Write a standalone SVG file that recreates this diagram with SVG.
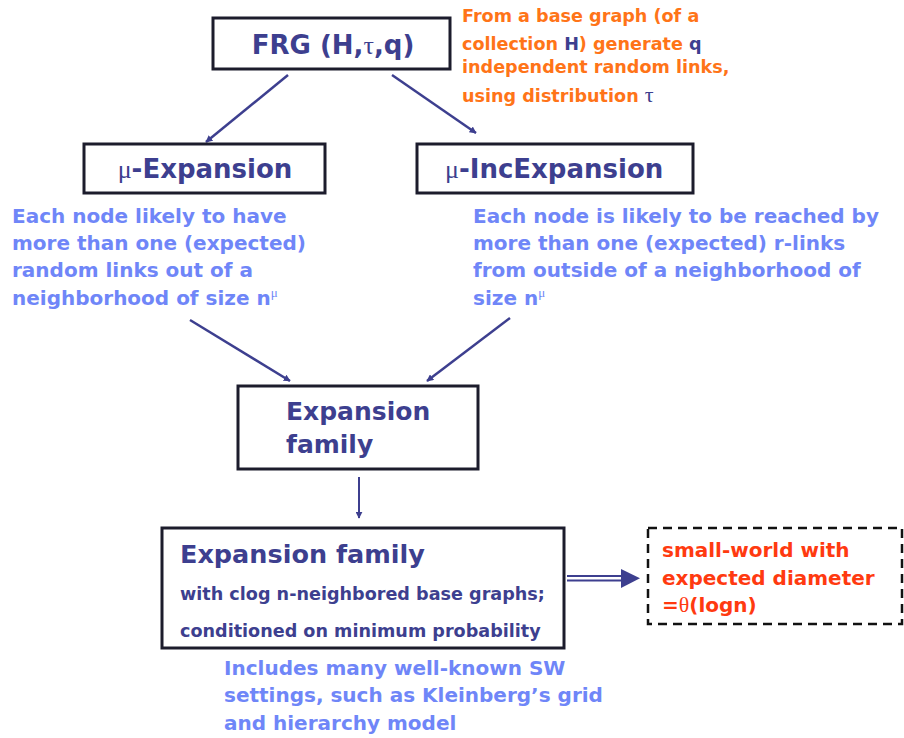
<svg xmlns="http://www.w3.org/2000/svg" width="904" height="738" viewBox="0 0 904 738">
<style>
.box{fill:#fff;stroke:#1c1c2c;stroke-width:3}
.t{font-family:"DejaVu Sans",Verdana,sans-serif;font-weight:bold}
.dk{fill:#3d3f8f}
.lb{fill:#6f86f8}
.or{fill:#ff7418}
.rd{fill:#ff3a10}
.sym{font-family:"Liberation Serif","DejaVu Serif",serif;font-weight:normal}
.ln{stroke:#3d3f8f;stroke-width:2.5;fill:none}
</style>
<defs>
<marker id="ah" viewBox="0 0 10 10" refX="9" refY="5" markerWidth="7" markerHeight="7" orient="auto" markerUnits="userSpaceOnUse">
<path d="M0,0 L10,5 L0,10 z" fill="#3d3f8f"/>
</marker>
</defs>

<g id="connectors">
<line class="ln" x1="288" y1="75" x2="206" y2="142" marker-end="url(#ah)"/>
<line class="ln" x1="392" y1="75" x2="476" y2="133" marker-end="url(#ah)"/>
<line class="ln" x1="190" y1="320" x2="290" y2="381" marker-end="url(#ah)"/>
<line class="ln" x1="510" y1="318" x2="427" y2="381" marker-end="url(#ah)"/>
<line class="ln" x1="359" y1="477" x2="359" y2="518" marker-end="url(#ah)" style="stroke-width:2"/>
<line x1="567" y1="576" x2="624" y2="576" stroke="#3d3f8f" stroke-width="1.8"/>
<line x1="567" y1="580.5" x2="624" y2="580.5" stroke="#3d3f8f" stroke-width="1.8"/>
<path d="M621,569 L640,578.3 L621,588 z" fill="#3d3f8f"/>
</g>

<g id="frg">
<rect class="box" x="213" y="18" width="237" height="51"/>
<text class="t dk" x="333" y="54" font-size="26" text-anchor="middle">FRG (H,<tspan class="sym">τ</tspan>,q)</text>
</g>

<g id="frg-note">
<text class="t or" font-size="17.6">
<tspan x="462" y="22">From a base graph (of a</tspan>
<tspan x="462" y="50">collection <tspan class="dk">H</tspan>) generate <tspan class="dk">q</tspan></tspan>
<tspan x="462" y="73">independent random links,</tspan>
<tspan x="462" y="102">using distribution <tspan class="sym dk" font-size="22">τ</tspan></tspan>
</text>
</g>

<g id="mu-expansion">
<rect class="box" x="84" y="144" width="241" height="49"/>
<text class="t dk" x="205" y="178" font-size="26" text-anchor="middle"><tspan class="sym">μ</tspan>-Expansion</text>
</g>

<g id="mu-expansion-note">
<text class="t lb" font-size="20">
<tspan x="12" y="223">Each node likely to have</tspan>
<tspan x="12" y="250">more than one (expected)</tspan>
<tspan x="12" y="277">random links out of a</tspan>
<tspan x="12" y="305">neighborhood of size n<tspan class="sym" font-size="13" dy="-8">μ</tspan></tspan>
</text>
</g>

<g id="mu-incexpansion">
<rect class="box" x="417" y="144" width="276" height="49"/>
<text class="t dk" x="445" y="178" font-size="26"><tspan class="sym">μ</tspan>-IncExpansion</text>
</g>

<g id="mu-incexpansion-note">
<text class="t lb" font-size="20">
<tspan x="473" y="223">Each node is likely to be reached by</tspan>
<tspan x="473" y="250">more than one (expected) r-links</tspan>
<tspan x="473" y="277">from outside of a neighborhood of</tspan>
<tspan x="473" y="305">size n<tspan class="sym" font-size="13" dy="-8">μ</tspan></tspan>
</text>
</g>

<g id="expansion-family">
<rect class="box" x="238" y="386" width="240" height="83"/>
<text class="t dk" font-size="25">
<tspan x="286" y="420">Expansion</tspan>
<tspan x="286" y="453">family</tspan>
</text>
</g>

<g id="expansion-family-clog">
<rect class="box" x="162" y="528" width="402" height="120"/>
<text class="t dk" x="180" y="563" font-size="25.5">Expansion family</text>
<text class="t dk" x="180" y="600" font-size="17.6">with clog n-neighbored base graphs;</text>
<text class="t dk" x="180" y="637" font-size="17.6">conditioned on minimum probability</text>
</g>

<g id="sw-note">
<text class="t lb" font-size="20">
<tspan x="224" y="675">Includes many well-known SW</tspan>
<tspan x="224" y="702">settings, such as Kleinberg’s grid</tspan>
<tspan x="224" y="730">and hierarchy model</tspan>
</text>
</g>

<g id="small-world">
<rect x="648" y="528" width="254" height="96" fill="#fff" stroke="#111" stroke-width="2.5" stroke-dasharray="9,6"/>
<text class="t rd" font-size="20">
<tspan x="662" y="557">small-world with</tspan>
<tspan x="662" y="585">expected diameter</tspan>
<tspan x="662" y="612">=<tspan class="sym" font-size="22">θ</tspan>(logn)</tspan>
</text>
</g>
</svg>
